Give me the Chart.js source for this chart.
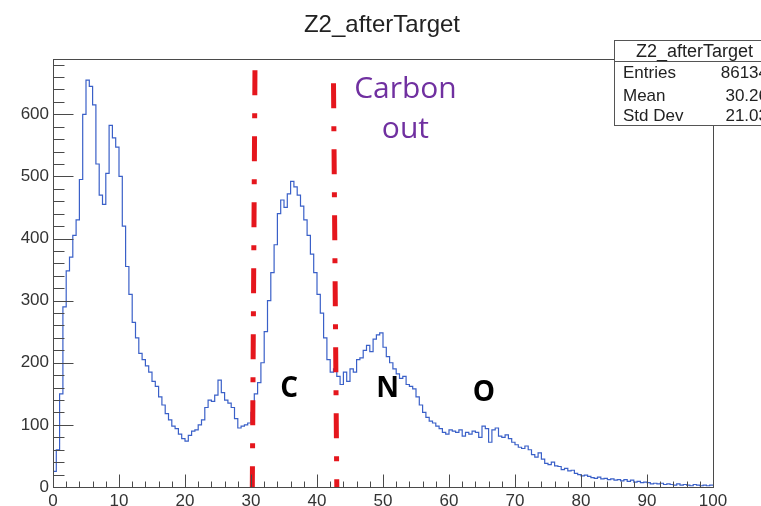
<!DOCTYPE html>
<html>
<head>
<meta charset="utf-8">
<script src="https://cdn.jsdelivr.net/npm/chart.js@4.4.1/dist/chart.umd.min.js"></script>
<style>
  html, body { margin: 0; padding: 0; background: #fff; }
  canvas { display: block; }
</style>
</head>
<body>
<canvas id="c" width="761" height="506"></canvas>
<script>
// ---- histogram Z2_afterTarget : 200 bins of width 0.5 on [0, 100] ----
const HIST_NAME = 'Z2_afterTarget';
const BIN_LOW = 0;
const BIN_WIDTH = 0.5;
const counts = [
  25, 60, 150, 290, 348, 370, 405, 430, 495, 600,
  655, 645, 615, 520, 470, 455, 505, 582, 562, 547,
  500, 420, 355, 310, 265, 240, 215, 205, 195, 185,
  170, 162, 145, 132, 118, 108, 98, 94, 85, 78,
  74, 83, 90, 92, 100, 108, 128, 140, 138, 148,
  172, 152, 140, 135, 128, 110, 95, 98, 100, 103,
  120, 150, 168, 200, 250, 300, 345, 390, 440, 462,
  450, 472, 492, 483, 470, 452, 430, 405, 375, 345,
  310, 280, 240, 205, 185, 190, 178, 165, 185, 170,
  190, 185, 205, 208, 220, 228, 218, 238, 245, 248,
  225, 210, 200, 190, 182, 175, 178, 165, 162, 158,
  145, 132, 120, 112, 106, 103, 98, 94, 88, 85,
  92, 90, 88, 92, 82, 88, 85, 90, 88, 80,
  98, 94, 72, 92, 95, 82, 80, 84, 78, 72,
  68, 64, 62, 66, 60, 52, 48, 55, 45, 38,
  36, 40, 34, 33, 28, 30, 26, 27, 22, 20,
  18, 19, 17, 15, 14, 16, 13, 14, 12, 13,
  11, 12, 10, 12, 9, 11, 8, 9, 7, 8,
  7, 5, 6, 5, 6, 4, 5, 4, 3, 5,
  3, 4, 3, 2, 4, 3, 2, 3, 2, 3
];

// axis tick labels
const xTickValues = [0, 10, 20, 30, 40, 50, 60, 70, 80, 90, 100];
const yTickValues = [0, 100, 200, 300, 400, 500, 600];
const Y_MAX = 689;

// statistics box
const statNames = ['Entries', 'Mean', 'Std Dev'];
const statValues = ['86134', '30.26', '21.03'];

// charge-cut markers (x at top, x at bottom, top value)
const cutTopX = [30.6, 42.5];
const cutBottomX = [30.2, 43.0];
const cutTopY = [671, 650];

// peak tags and note
const peakTags = ['C', 'N', 'O'];
const noteLines = ['Carbon', 'out'];

// ---- placement / style ----
const LAYOUT = {
  peakTagPos: [[35.8, 145], [50.7, 145], [65.3, 138]],
  notePos: [[53.4, 626], [53.4, 562]]
};
const AXIS_COLOR = '#4a4a4a';
const HIST_COLOR = '#3a60c8';
const CUT_COLOR = '#e5161d';
const NOTE_COLOR = '#7030a0';
const SANS = '"Liberation Sans", Arial, Helvetica, sans-serif';

// histogram outline as step points at bin left edges, closed at the upper edge
const histPoints = [{ x: BIN_LOW, y: 0 }];
counts.forEach((c, i) => histPoints.push({ x: BIN_LOW + i * BIN_WIDTH, y: c }));
histPoints.push({ x: BIN_LOW + counts.length * BIN_WIDTH, y: counts[counts.length - 1] });

const cutSets = cutTopX.map((tx, i) => ({
  data: [{ x: tx, y: cutTopY[i] }, { x: cutBottomX[i], y: 0 }],
  borderColor: CUT_COLOR,
  borderWidth: 5,
  borderDash: [25, 18, 5, 18],
  borderCapStyle: 'butt',
  pointRadius: 0,
  fill: false,
  tension: 0
}));

const rootFrame = {
  id: 'rootFrame',
  afterDraw(chart) {
    const ctx = chart.ctx;
    const xs = chart.scales.x, ys = chart.scales.y;
    const a = chart.chartArea;
    const L = Math.round(a.left) + 0.5, R = Math.round(a.right) + 0.5;
    const T = Math.round(a.top) + 0.5, B = Math.round(a.bottom) + 0.5;
    ctx.save();

    // frame
    ctx.strokeStyle = AXIS_COLOR;
    ctx.lineWidth = 1;
    ctx.strokeRect(L, T, R - L, B - T);

    // inner tick marks
    ctx.beginPath();
    for (let v = 0; v <= Y_MAX; v += 20) {
      const py = Math.round(ys.getPixelForValue(v)) + 0.5;
      const len = v % 100 === 0 ? 20 : 11;
      ctx.moveTo(L, py); ctx.lineTo(L + len, py);
    }
    for (let v = 0; v <= 100; v += 2) {
      const px = Math.round(xs.getPixelForValue(v)) + 0.5;
      const len = v % 10 === 0 ? 13 : 6;
      ctx.moveTo(px, B); ctx.lineTo(px, B - len);
    }
    ctx.stroke();

    // peak tags
    ctx.fillStyle = '#000';
    ctx.font = 'bold 28px "Open Sans", Lato, sans-serif';
    ctx.textAlign = 'center';
    ctx.textBaseline = 'alphabetic';
    peakTags.forEach((t, i) => {
      const p = LAYOUT.peakTagPos[i];
      ctx.fillText(t, xs.getPixelForValue(p[0]), ys.getPixelForValue(p[1]));
    });

    // note
    ctx.fillStyle = NOTE_COLOR;
    ctx.font = '30px "Open Sans", Lato, sans-serif';
    noteLines.forEach((t, i) => {
      const p = LAYOUT.notePos[i];
      ctx.fillText(t, xs.getPixelForValue(p[0]), ys.getPixelForValue(p[1]));
    });

    // title
    ctx.fillStyle = '#222';
    ctx.font = '24px ' + SANS;
    ctx.fillText(HIST_NAME, 382, 32);

    // statistics box
    const bx = 614.5, by = 40.5, bw = 160, bh = 85, hh = 21;
    ctx.fillStyle = '#fff';
    ctx.fillRect(bx, by, bw, bh);
    ctx.strokeStyle = '#555';
    ctx.strokeRect(bx, by, bw, bh);
    ctx.beginPath();
    ctx.moveTo(bx, by + hh); ctx.lineTo(bx + bw, by + hh);
    ctx.stroke();
    ctx.fillStyle = '#222';
    ctx.font = '18px ' + SANS;
    ctx.textAlign = 'center';
    ctx.fillText(HIST_NAME, bx + bw / 2, 57);
    ctx.font = '17px ' + SANS;
    const rowBase = [78, 101, 121];
    statNames.forEach((n, i) => {
      ctx.textAlign = 'left';
      ctx.fillText(n, 623, rowBase[i]);
      ctx.textAlign = 'right';
      ctx.fillText(statValues[i], 768, rowBase[i]);
    });
    ctx.restore();
  }
};

new Chart(document.getElementById('c'), {
  type: 'line',
  data: {
    datasets: [
      ...cutSets,
      {
        data: histPoints,
        borderColor: HIST_COLOR,
        borderWidth: 1.2,
        stepped: true,
        pointRadius: 0,
        fill: false
      }
    ]
  },
  options: {
    responsive: false,
    animation: false,
    devicePixelRatio: 1,
    parsing: false,
    layout: { padding: { top: 59, right: 48, bottom: 0, left: 0 } },
    plugins: { legend: { display: false }, tooltip: { enabled: false }, title: { display: false } },
    scales: {
      x: {
        type: 'linear',
        min: 0,
        max: 100,
        afterFit(s) { s.height = 19; },
        afterBuildTicks(s) { s.ticks = xTickValues.map(v => ({ value: v })); },
        ticks: {
          font: { family: SANS, size: 17 },
          color: '#333',
          padding: 4,
          maxRotation: 0,
          autoSkip: false
        },
        grid: { display: false, drawTicks: false },
        border: { display: false }
      },
      y: {
        type: 'linear',
        min: 0,
        max: Y_MAX,
        afterFit(s) { s.width = 53; },
        afterBuildTicks(s) { s.ticks = yTickValues.map(v => ({ value: v })); },
        ticks: {
          font: { family: SANS, size: 17 },
          color: '#333',
          padding: 4,
          autoSkip: false
        },
        grid: { display: false, drawTicks: false },
        border: { display: false }
      }
    }
  },
  plugins: [rootFrame]
});
</script>
</body>
</html>
